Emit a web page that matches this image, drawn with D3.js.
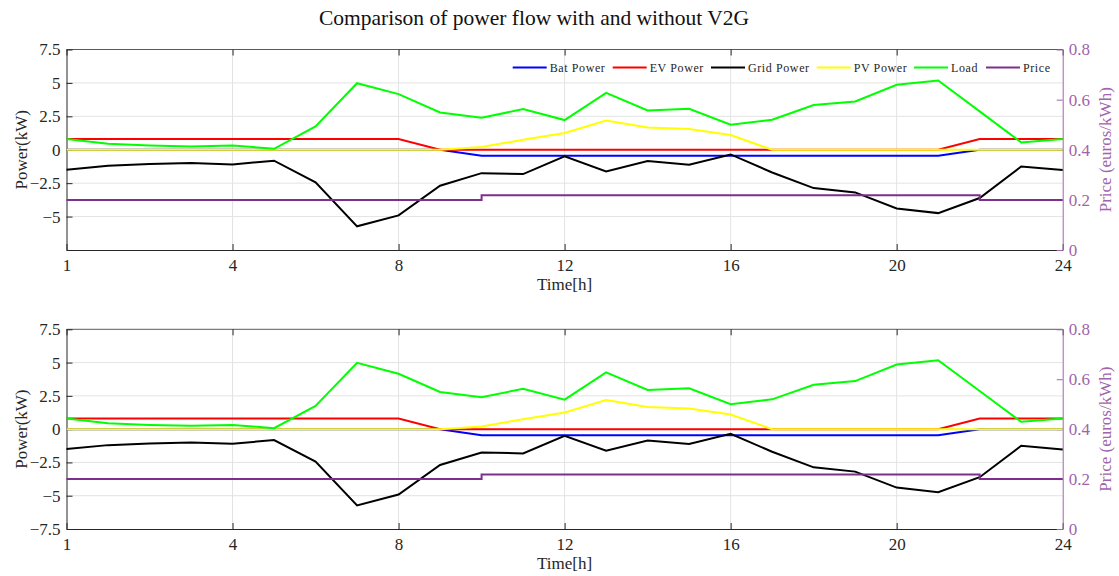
<!DOCTYPE html>
<html>
<head>
<meta charset="utf-8">
<script src="https://cdn.jsdelivr.net/npm/d3@7"></script>
<style>
  body { margin: 0; background: #fff; }
  text { font-family: "Liberation Serif", "DejaVu Serif", serif; }
</style>
</head>
<body>
<svg id="chart" width="1119" height="576"></svg>
<script>
// hours of the day (index 0 is labelled "1")
var hours = d3.range(0, 25);
var xTickVals = [0, 4, 8, 12, 16, 20, 24];
var xTickLabels = ["1", "4", "8", "12", "16", "20", "24"];
var yTickVals = [7.5, 5, 2.5, 0, -2.5, -5, -7.5];
var priceTicks = [0, 0.2, 0.4, 0.6, 0.8];

var batPower  = [0, 0, 0, 0, 0, 0, 0, 0, 0, 0, -0.45, -0.45, -0.45, -0.45, -0.45, -0.45, -0.45, -0.45, -0.45, -0.45, -0.45, -0.45, 0, 0, 0];
var evPower   = [0.8, 0.8, 0.8, 0.8, 0.8, 0.8, 0.8, 0.8, 0.8, 0, 0, 0, 0, 0, 0, 0, 0, 0, 0, 0, 0, 0, 0.8, 0.8, 0.8];
var gridPower = [-1.5, -1.2, -1.07, -1.0, -1.1, -0.82, -2.44, -5.73, -4.91, -2.69, -1.75, -1.82, -0.5, -1.62, -0.85, -1.12, -0.35, -1.7, -2.87, -3.19, -4.39, -4.74, -3.61, -1.25, -1.52];
var pvPower   = [0, 0, 0, 0, 0, 0, 0, 0, 0, 0, 0.2, 0.75, 1.25, 2.19, 1.67, 1.55, 1.1, 0, 0, 0, 0, 0, 0, 0, 0];
var load      = [0.8, 0.45, 0.32, 0.25, 0.32, 0.07, 1.75, 4.98, 4.16, 2.79, 2.39, 3.04, 2.22, 4.26, 2.94, 3.07, 1.87, 2.24, 3.34, 3.61, 4.86, 5.18, 2.87, 0.55, 0.8];
var price     = [0.2, 0.2, 0.2, 0.2, 0.2, 0.2, 0.2, 0.2, 0.2, 0.2, 0.218, 0.218, 0.218, 0.218, 0.218, 0.218, 0.218, 0.218, 0.218, 0.218, 0.218, 0.218, 0.2, 0.2, 0.2];

var series = [
    {name: "Bat Power", values: batPower, color: "#0000ff"},
    {name: "EV Power", values: evPower, color: "#ff0000"},
    {name: "Grid Power", values: gridPower, color: "#000000"},
    {name: "PV Power", values: pvPower, color: "#ffff00"},
    {name: "Load", values: load, color: "#00ff00"}
];
var priceColor = "#7e2f8e";
var priceAxisColor = "#a064ab";

var svg = d3.select("#chart");
var left = 66.5, right = 1062.7;

svg.append("text")
    .attr("x", 534).attr("y", 25)
    .attr("text-anchor", "middle")
    .attr("font-size", 21.5)
    .attr("fill", "#111")
    .text("Comparison of power flow with and without V2G");

var panels = [
    {top: 49.5, bottom: 250, legend: true, yLabels: [7.5, 5, 2.5, 0, -2.5, -5]},
    {top: 329.3, bottom: 529, legend: false, yLabels: [7.5, 5, 2.5, 0, -2.5, -5, -7.5]}
];

var x = d3.scaleLinear().domain([0, 24]).range([left, right]);

panels.forEach(function (p, pi) {
    var y = d3.scaleLinear().domain([-7.5, 7.5]).range([p.bottom, p.top]);
    var yp = d3.scaleLinear().domain([0, 0.8]).range([p.bottom, p.top]);
    var g = svg.append("g").attr("id", "panel" + pi);

    // grid
    g.selectAll(".vgrid").data(xTickVals.slice(1, -1)).enter().append("line")
        .attr("x1", function (d) { return x(d); }).attr("x2", function (d) { return x(d); })
        .attr("y1", p.top).attr("y2", p.bottom)
        .attr("stroke", "#e3e3e3").attr("stroke-width", 1);
    g.selectAll(".hgrid").data(yTickVals.slice(1, -1)).enter().append("line")
        .attr("x1", left).attr("x2", right)
        .attr("y1", function (d) { return y(d); }).attr("y2", function (d) { return y(d); })
        .attr("stroke", "#e3e3e3").attr("stroke-width", 1);

    // top box line
    g.append("line").attr("x1", left).attr("x2", right)
        .attr("y1", p.top).attr("y2", p.top)
        .attr("stroke", "#5a5a5a").attr("stroke-width", 1);

    // bottom axis
    var xAxis = d3.axisBottom(x).tickValues(xTickVals)
        .tickFormat(function (d, i) { return xTickLabels[i]; })
        .tickSizeInner(-6).tickSizeOuter(0).tickPadding(9);
    var xg = g.append("g").attr("transform", "translate(0," + p.bottom + ")").call(xAxis);
    // top ticks
    var xTop = d3.axisTop(x).tickValues(xTickVals).tickFormat("").tickSizeInner(-6).tickSizeOuter(0);
    var xtg = g.append("g").attr("transform", "translate(0," + p.top + ")").call(xTop);
    xtg.select(".domain").remove();

    // left axis
    var yAxis = d3.axisLeft(y).tickValues(yTickVals)
        .tickFormat(function (d) { return p.yLabels.indexOf(d) >= 0 ? d3.format("")(d) : ""; })
        .tickSizeInner(-6).tickSizeOuter(0).tickPadding(6);
    var yg = g.append("g").attr("transform", "translate(" + left + ",0)").call(yAxis);

    // right axis (price)
    var pAxis = d3.axisRight(yp).tickValues(priceTicks)
        .tickFormat(function (d) { return d3.format("")(d); })
        .tickSizeInner(-6).tickSizeOuter(0).tickPadding(6);
    var pg = g.append("g").attr("transform", "translate(" + right + ",0)").call(pAxis);

    [xg, xtg, yg].forEach(function (a) {
        a.selectAll("path").attr("stroke", "#262626");
        a.selectAll("line").attr("stroke", "#262626");
        a.selectAll("text").attr("fill", "#262626").attr("font-size", 17)
            .style("font-family", "'Liberation Serif', serif");
    });
    pg.selectAll("path").attr("stroke", priceAxisColor);
    pg.selectAll("line").attr("stroke", priceAxisColor);
    pg.selectAll("text").attr("fill", priceAxisColor).attr("font-size", 17)
        .style("font-family", "'Liberation Serif', serif");

    // power lines
    var line = d3.line()
        .x(function (d, i) { return x(hours[i]); })
        .y(function (d) { return y(d); });
    series.forEach(function (s) {
        g.append("path").datum(s.values)
            .attr("fill", "none")
            .attr("stroke", s.color)
            .attr("stroke-width", 2)
            .attr("d", line);
    });
    var pLine = d3.line().curve(d3.curveStepAfter)
        .x(function (d, i) { return x(hours[i]); })
        .y(function (d) { return yp(d); });
    g.append("path").datum(price)
        .attr("fill", "none").attr("stroke", priceColor).attr("stroke-width", 2)
        .attr("d", pLine);

    // axis labels
    g.append("text")
        .attr("transform", "translate(27," + (p.top + p.bottom) / 2 + ") rotate(-90)")
        .attr("text-anchor", "middle").attr("font-size", 17).attr("fill", "#262626")
        .text("Power(kW)");
    g.append("text")
        .attr("x", (left + right) / 2).attr("y", p.bottom + 40)
        .attr("text-anchor", "middle").attr("font-size", 17).attr("fill", "#262626")
        .text("Time[h]");
    g.append("text")
        .attr("transform", "translate(1111," + (p.top + p.bottom) / 2 + ") rotate(-90)")
        .attr("text-anchor", "middle").attr("font-size", 17).attr("fill", priceAxisColor)
        .text("Price (euros/kWh)");

    if (p.legend) {
        var legendItems = series.map(function (s) { return {name: s.name, color: s.color}; })
            .concat([{name: "Price", color: priceColor}]);
        var legendX = [512.7, 612.7, 711, 816.7, 914, 986];
        var lg = g.append("g").attr("class", "legend");
        legendItems.forEach(function (d, i) {
            lg.append("line")
                .attr("x1", legendX[i]).attr("x2", legendX[i] + 34)
                .attr("y1", p.top + 18).attr("y2", p.top + 18)
                .attr("stroke", d.color).attr("stroke-width", 2);
            lg.append("text")
                .attr("x", legendX[i] + 37).attr("y", p.top + 22)
                .attr("font-size", 12).attr("fill", "#262626")
                .attr("letter-spacing", 0.6)
                .text(d.name);
        });
    }
});
</script>
</body>
</html>
